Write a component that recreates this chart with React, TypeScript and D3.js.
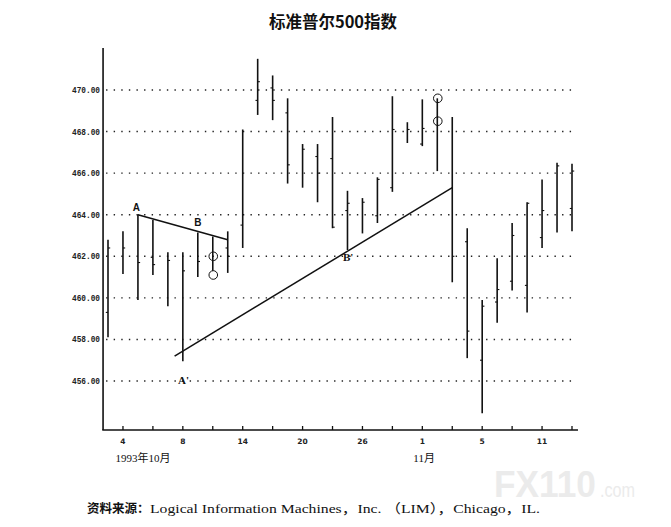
import React from "react";
import * as d3 from "d3";

// ---- data ----
const dates = [
  "10/1", "10/4", "10/5", "10/6", "10/7", "10/8",
  "10/11", "10/12", "10/13", "10/14", "10/15",
  "10/18", "10/19", "10/20", "10/21", "10/22",
  "10/25", "10/26", "10/27", "10/28", "10/29",
  "11/1", "11/2", "11/3", "11/4", "11/5",
  "11/8", "11/9", "11/10", "11/11", "11/12", "11/15",
];
const highs = [
  462.8, 463.2, 464.0, 463.75, 462.2, 462.2,
  463.15, 462.95, 463.2, 468.1, 471.5,
  470.7, 469.6, 467.4, 467.4, 468.7,
  465.15, 464.8, 465.8, 469.7, 468.45,
  469.55, 469.6, 468.7, 463.35, 459.9,
  461.9, 463.6, 464.6, 465.7, 466.5, 466.45,
];
const lows = [
  458.1, 461.15, 459.9, 461.1, 459.6, 456.95,
  461.0, 461.3, 461.2, 462.4, 468.8,
  468.55, 465.5, 465.3, 464.6, 463.35,
  462.3, 463.1, 463.6, 465.1, 467.45,
  467.3, 466.1, 460.75, 457.1, 454.45,
  458.8, 460.35, 459.3, 462.4, 463.15, 463.2,
];
const opens: (number | null)[] = [
  459.3, null, null, 461.95, null, null,
  null, null, 462.4, 463.5, 469.5,
  470.1, 468.9, null, 466.8, 466.7,
  464.2, null, 463.95, 465.3, null,
  467.4, null, null, 462.7, 457.0,
  459.8, 460.8, 460.6, 462.9, null, 464.3,
];
const closes: (number | null)[] = [
  462.4, 462.4, 461.7, 461.6, 461.8, 461.3,
  461.75, null, 462.0, null, 470.4,
  469.5, 466.4, 467.15, 466.0, 463.4,
  464.55, 464.6, 465.7, 468.1, 468.1,
  468.15, null, 462.0, 458.4, 459.6,
  460.4, 463.0, 464.55, 464.2, 466.35, 466.1,
];
// circled prices: [bar index, value]
const circles: [number, number][] = [
  [7, 462.0], [7, 461.1], [22, 469.6], [22, 468.5],
];
// trend lines: [bar index, value]
const lineAB: [number, number][] = [[2, 464.0], [8, 462.8]];
const lineApBp: [number, number][] = [[4.45, 457.2], [23, 465.3]];
const pointLabels: { t: string; i: number; v: number; serif: boolean }[] = [
  { t: "A", i: 1.9, v: 464.18, serif: false },
  { t: "B", i: 6.0, v: 463.45, serif: false },
  { t: "A'", i: 5.05, v: 455.85, serif: true },
  { t: "B'", i: 16.05, v: 461.75, serif: true },
];
const yTicks = [456, 458, 460, 462, 464, 466, 468, 470];
const xTickIdx = [1, 3, 5, 7, 9, 11, 13, 15, 17, 19, 21, 23, 25, 27, 29, 31];
const xLabels: [number, string][] = [
  [1, "4"], [5, "8"], [9, "14"], [13, "20"], [17, "26"], [21, "1"], [25, "5"], [29, "11"],
];
const title = "标准普尔500指数";
const monthLabels: [number, string][] = [[0.5, "1993年10月"], [20.4, "11月"]];
const sourceBold = "资料来源：";
const sourceRest = "Logical Information Machines，Inc. （LIM），Chicago，IL.";

export default function App() {
  const x = d3.scaleLinear().domain([0, 31]).range([108, 572]);
  const y = d3.scaleLinear().domain([456, 470]).range([381, 90]);
  const line = d3
    .line<[number, number]>()
    .x((d) => x(d[0]))
    .y((d) => y(d[1]));
  const axisLeft = x(-0.33);
  const axisRight = x(31.4);
  const axisBottom = 430;
  const axisTop = 48;

  return (
    <svg
      width={671}
      height={527}
      style={{ position: "absolute", left: 0, top: 0, background: "#fff" }}
    >
      <rect width={671} height={527} fill="#fff" />
      <text
        x={333}
        y={28}
        textAnchor="middle"
        fontFamily="'Noto Sans CJK SC', sans-serif"
        fontWeight="bold"
        fontSize={16.5}
        fill="#111"
      >
        {title}
      </text>

      {/* grid */}
      {yTicks.map((t) => (
        <g key={t}>
          <line
            x1={axisLeft + 3}
            x2={577}
            y1={y(t)}
            y2={y(t)}
            stroke="#222"
            strokeWidth={1.4}
            strokeDasharray="1.4 6.2"
          />
          <text
            x={100}
            y={y(t) + 3}
            textAnchor="end"
            fontFamily="'Liberation Mono', monospace"
            fontWeight="bold"
            fontSize={9}
            textLength={28}
            lengthAdjust="spacingAndGlyphs"
            fill="#222"
          >
            {t.toFixed(2)}
          </text>
        </g>
      ))}

      {/* axes */}
      <line x1={axisLeft} x2={axisLeft} y1={axisTop} y2={axisBottom} stroke="#111" strokeWidth={1.6} />
      <line x1={axisLeft - 0.8} x2={axisRight} y1={axisBottom} y2={axisBottom} stroke="#111" strokeWidth={1.6} />
      {xTickIdx.map((i) => (
        <line key={i} x1={x(i)} x2={x(i)} y1={axisBottom} y2={axisBottom - 4} stroke="#111" strokeWidth={1.3} />
      ))}
      {xLabels.map(([i, s]) => (
        <text
          key={s}
          x={x(i)}
          y={444}
          textAnchor="middle"
          fontFamily="'DejaVu Sans', sans-serif"
          fontWeight="bold"
          fontSize={7.5}
          fill="#222"
        >
          {s}
        </text>
      ))}
      {monthLabels.map(([i, s]) => (
        <text
          key={s}
          x={x(i)}
          y={462}
          fontFamily="'Liberation Serif', 'Noto Sans CJK SC', serif"
          fontSize={11}
          fill="#111"
        >
          {s}
        </text>
      ))}

      {/* bars */}
      {dates.map((d, i) => {
        const cx = x(i);
        const o = opens[i];
        const c = closes[i];
        return (
          <g key={d}>
            <line x1={cx} x2={cx} y1={y(highs[i])} y2={y(lows[i])} stroke="#111" strokeWidth={1.6} />
            {o !== null && (
              <line x1={cx - 2.2} x2={cx} y1={y(o)} y2={y(o)} stroke="#111" strokeWidth={1.1} />
            )}
            {c !== null && (
              <line x1={cx} x2={cx + 2.2} y1={y(c)} y2={y(c)} stroke="#111" strokeWidth={1.1} />
            )}
          </g>
        );
      })}

      {circles.map(([i, v], k) => (
        <circle key={k} cx={x(i) + 0.5} cy={y(v)} r={4.3} fill="none" stroke="#111" strokeWidth={1} />
      ))}

      <path d={line(lineAB) ?? ""} fill="none" stroke="#111" strokeWidth={1.5} />
      <path d={line(lineApBp) ?? ""} fill="none" stroke="#111" strokeWidth={1.5} />

      {pointLabels.map((p) => (
        <text
          key={p.t}
          x={x(p.i)}
          y={y(p.v)}
          textAnchor="middle"
          fontFamily={p.serif ? "'Liberation Serif', serif" : "'Liberation Sans', sans-serif"}
          fontWeight="bold"
          fontSize={p.serif ? 11 : 10}
          fill="#111"
        >
          {p.t}
        </text>
      ))}

      {/* watermark */}
      <text
        x={494}
        y={497}
        fontFamily="'Liberation Sans', sans-serif"
        fontWeight="bold"
        fontSize={36}
        textLength={102}
        lengthAdjust="spacingAndGlyphs"
        fill="#ebebeb"
      >
        FX110
      </text>
      <text
        x={600}
        y={497}
        fontFamily="'Liberation Sans', sans-serif"
        fontSize={20}
        textLength={35}
        lengthAdjust="spacingAndGlyphs"
        fill="#ebebeb"
      >
        .com
      </text>

      {/* source */}
      <text
        x={87}
        y={513}
        fontFamily="'Noto Sans CJK SC', sans-serif"
        fontWeight="bold"
        fontSize={12.5}
        fill="#111"
      >
        {sourceBold}
      </text>
      <text
        x={150}
        y={513}
        fontFamily="'Liberation Serif', 'Noto Sans CJK SC', serif"
        fontSize={13}
        textLength={390}
        lengthAdjust="spacingAndGlyphs"
        fill="#111"
      >
        {sourceRest}
      </text>
    </svg>
  );
}
